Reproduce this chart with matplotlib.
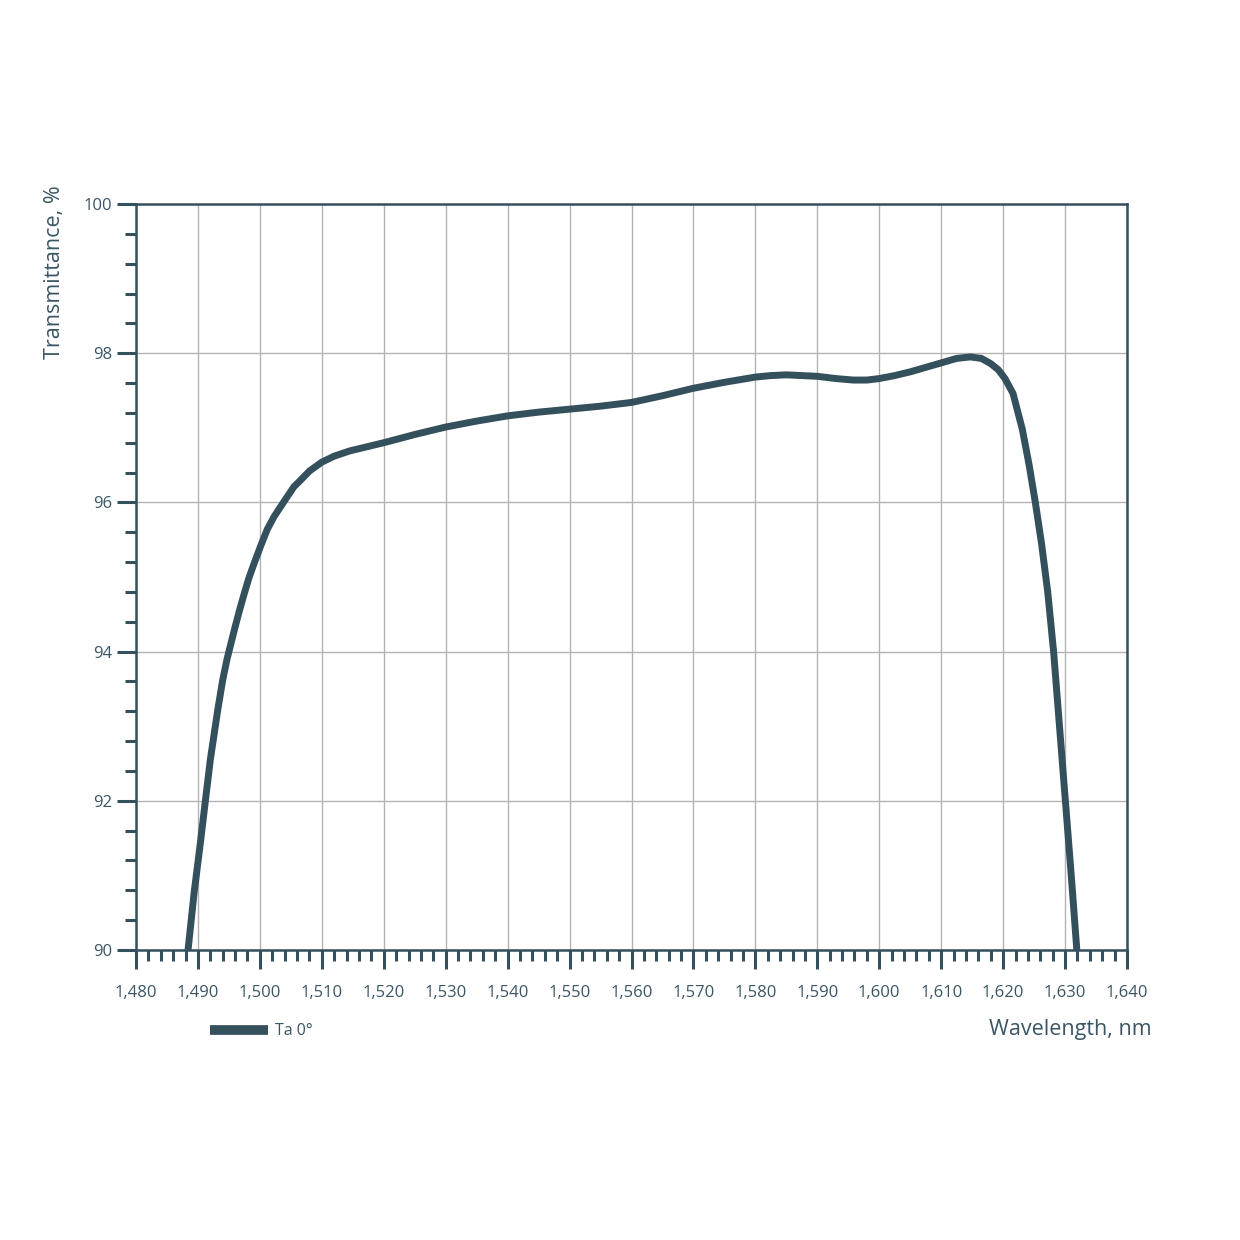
import numpy as np
import matplotlib
matplotlib.use('Agg')
import matplotlib.pyplot as plt
from matplotlib.ticker import MultipleLocator, FuncFormatter

# Values
wavelength = [1488.4, 1489.4, 1490.4, 1491.2, 1492.0, 1493.2, 1494.0, 1494.7, 1495.3, 1496.0,
              1496.7, 1497.45, 1498.2, 1499.15, 1500.1, 1501.2, 1502.3, 1503.8, 1505.5, 1506.6,
              1508.0, 1510.0, 1512.0, 1514.5, 1517.0, 1520.0, 1525.0, 1530.0, 1535.0, 1540.0,
              1545.0, 1550.0, 1555.0, 1560.0, 1565.0, 1570.0, 1575.0, 1580.0, 1582.5, 1585.0,
              1587.5, 1590.0, 1593.0, 1595.8, 1598.0, 1600.0, 1602.5, 1605.0, 1607.5, 1610.0,
              1612.5, 1614.7, 1616.5, 1618.0, 1619.2, 1620.3, 1621.6, 1623.1, 1624.2, 1625.2,
              1626.2, 1627.2, 1628.15, 1629.1, 1630.05, 1631.0, 1631.9]
transmittance = [90.0, 90.78, 91.44, 92.0, 92.55, 93.22, 93.62, 93.9, 94.1, 94.33,
                 94.55, 94.77, 94.98, 95.2, 95.41, 95.64, 95.81, 96.0, 96.21, 96.3,
                 96.42, 96.54, 96.62, 96.69, 96.74, 96.8, 96.91, 97.01, 97.09, 97.16,
                 97.21, 97.25, 97.29, 97.34, 97.43, 97.53, 97.61, 97.68, 97.70, 97.71,
                 97.70, 97.69, 97.66, 97.64, 97.64, 97.66, 97.70, 97.75, 97.81, 97.87,
                 97.93, 97.95, 97.93, 97.86, 97.78, 97.66, 97.46, 96.98, 96.5, 96.0,
                 95.45, 94.8, 94.0, 93.0, 92.0, 91.0, 90.0]
series_label = 'Ta 0°'
x_label = 'Wavelength, nm'
y_label = 'Transmittance, %'

dark = '#34505d'
text_col = '#3a5664'

plt.rcParams['font.family'] = ['Open Sans', 'DejaVu Sans']

fig = plt.figure(figsize=(12.4, 12.4), dpi=100)
ax = fig.add_axes([136 / 1240, 1 - 950 / 1240, (1127 - 136) / 1240, (950 - 204) / 1240])

ax.plot(wavelength, transmittance, color=dark, lw=5, solid_capstyle='butt',
        solid_joinstyle='round', zorder=3)

ax.set_xlim(1480, 1640)
ax.set_ylim(90, 100)

ax.xaxis.set_major_locator(MultipleLocator(10))
ax.xaxis.set_minor_locator(MultipleLocator(2))
ax.yaxis.set_major_locator(MultipleLocator(2))
ax.yaxis.set_minor_locator(MultipleLocator(0.4))
ax.xaxis.set_major_formatter(FuncFormatter(lambda v, p: f'{int(v):,}'))
ax.yaxis.set_major_formatter(FuncFormatter(lambda v, p: f'{int(v)}'))

ax.grid(True, which='major', color='#b3b3b3', lw=1.0, zorder=0)
ax.set_axisbelow(True)

for s in ax.spines.values():
    s.set_color(dark)
    s.set_linewidth(1.8)

ax.tick_params(axis='x', which='major', direction='out', length=14, width=2.2,
               color=dark, labelcolor=text_col, labelsize=12, pad=11)
ax.tick_params(axis='x', which='minor', direction='out', length=8, width=2.2, color=dark)
ax.tick_params(axis='y', which='major', direction='out', length=14, width=2.2,
               color=dark, labelcolor=text_col, labelsize=12, pad=3)
ax.tick_params(axis='y', which='minor', direction='out', length=8, width=2.2, color=dark)

fig.text(0.044, 1 - 185 / 1240, y_label, rotation=90, ha='center', va='top',
         fontsize=15.5, color=text_col)
fig.text(1152 / 1240, 1 - 1030 / 1240, x_label, ha='right', va='center',
         fontsize=15.5, color=text_col)

# legend swatch
fig.add_artist(plt.Line2D([210 / 1240, 268 / 1240], [1 - 1030 / 1240, 1 - 1030 / 1240],
                          color=dark, lw=7, solid_capstyle='butt'))
fig.text(275 / 1240, 1 - 1031 / 1240, series_label, ha='left', va='center',
         fontsize=11.5, color=text_col)

fig.savefig('out.png', dpi=100, facecolor='white')
